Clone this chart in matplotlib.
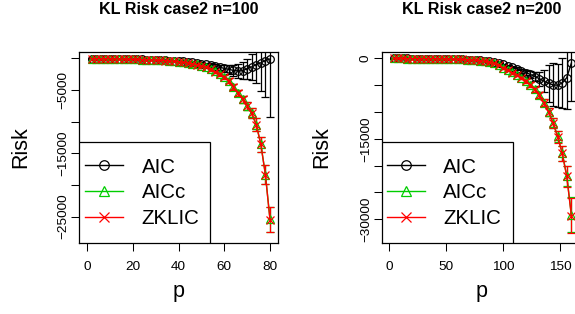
import matplotlib
matplotlib.use("Agg")
import matplotlib.pyplot as plt
from matplotlib.patches import Rectangle

plt.rcParams['font.family'] = ['Liberation Sans', 'DejaVu Sans']

# ---------------- data: n = 100 ----------------
p100 = list(range(2, 81, 2))
aic100 = [-30, -40, -50, -60, -70, -80, -95, -110, -125, -140,
          -160, -180, -200, -225, -250, -280, -310, -350, -390, -440,
          -500, -570, -650, -740, -850, -970, -1100, -1250, -1420, -1580,
          -1750, -1900, -2000, -1950, -1650, -1350, -1000, -700, -350, -100]
aic100_se = [20, 20, 25, 25, 30, 30, 35, 35, 40, 40,
             45, 50, 55, 60, 65, 70, 80, 90, 100, 110,
             120, 135, 150, 170, 200, 240, 290, 350, 420, 500,
             650, 850, 1100, 1350, 1600, 2000, 2900, 4400, 5700, 9200]
aicc100 = [-30, -40, -50, -60, -70, -85, -100, -115, -130, -150,
           -170, -190, -210, -235, -265, -300, -340, -390, -450, -520,
           -600, -700, -820, -970, -1150, -1380, -1700, -2060, -2480, -2930,
           -3530, -4480, -5480, -6430, -7480, -8680, -10450, -13550, -18350, -25400]
aicc100_se = [20, 20, 25, 25, 30, 30, 35, 35, 40, 45,
              50, 55, 60, 65, 70, 75, 80, 90, 95, 100,
              110, 120, 140, 160, 180, 200, 230, 260, 290, 330,
              380, 430, 500, 560, 650, 800, 1000, 1200, 1500, 1950]
zk100 = [-40, -50, -60, -70, -80, -95, -110, -125, -140, -160,
         -180, -200, -225, -255, -285, -320, -360, -410, -470, -540,
         -620, -720, -840, -990, -1170, -1400, -1720, -2080, -2500, -2950,
         -3550, -4500, -5500, -6450, -7500, -8700, -10500, -13600, -18400, -25500]
zk100_se = [20, 20, 25, 25, 30, 30, 35, 35, 40, 45,
            50, 55, 60, 65, 70, 75, 80, 90, 95, 100,
            110, 120, 140, 160, 180, 200, 230, 260, 290, 330,
            380, 430, 500, 560, 650, 800, 1000, 1200, 1500, 1950]

# ---------------- data: n = 200 ----------------
p200 = list(range(4, 161, 4))
aic200 = [-15, -20, -25, -30, -35, -40, -45, -55, -65, -75,
          -85, -100, -115, -135, -160, -190, -225, -265, -320, -390,
          -470, -560, -650, -850, -1100, -1350, -1650, -1950, -2300, -2650,
          -3000, -3400, -3800, -4250, -4650, -4950, -5000, -4600, -3600, -900]
aic200_se = [15, 15, 20, 20, 20, 25, 25, 25, 30, 30,
             35, 35, 40, 40, 45, 50, 55, 60, 65, 70,
             75, 80, 90, 100, 110, 150, 200, 280, 380, 500,
             650, 900, 1300, 2000, 3500, 4000, 4000, 4600, 5800, 7000]
aicc200 = [-20, -25, -30, -35, -40, -45, -50, -60, -70, -80,
           -95, -110, -130, -150, -180, -210, -250, -300, -370, -450,
           -560, -700, -950, -1300, -1780, -2180, -2630, -3080, -3580, -4180,
           -4880, -5780, -6880, -8280, -9950, -12050, -14550, -17650, -21900, -29100]
aicc200_se = [15, 15, 20, 20, 20, 25, 25, 25, 30, 30,
              35, 35, 40, 40, 45, 50, 55, 60, 60, 65,
              70, 80, 100, 120, 150, 180, 210, 250, 290, 340,
              400, 460, 540, 640, 760, 900, 1100, 1400, 1900, 3300]
zk200 = [-20, -25, -30, -35, -40, -45, -50, -60, -70, -80,
         -95, -110, -130, -150, -180, -210, -250, -300, -370, -450,
         -560, -700, -950, -1300, -1800, -2200, -2650, -3100, -3600, -4200,
         -4900, -5800, -6900, -8300, -10000, -12100, -14600, -17700, -22000, -29300]
zk200_se = [15, 15, 20, 20, 20, 25, 25, 25, 30, 30,
            35, 35, 40, 40, 45, 50, 55, 60, 60, 65,
            70, 80, 100, 120, 150, 180, 210, 250, 290, 340,
            400, 460, 540, 640, 760, 900, 1100, 1400, 1900, 3300]

series_names = ["AIC", "AICc", "ZKLIC"]
titles = ["KL Risk case2 n=100", "KL Risk case2 n=200"]

xticks100 = [0, 20, 40, 60, 80]
xticks200 = [0, 50, 100, 150]
yticks100 = [0, -5000, -10000, -15000, -20000, -25000]
ylabels100 = ["", "\u22125000", "", "\u221215000", "", "\u221225000"]
yticks200 = [0, -5000, -10000, -15000, -20000, -25000, -30000]
ylabels200 = ["0", "", "", "\u221215000", "", "", "\u221230000"]

colors = ["black", "#00CD00", "#FF0000"]
markers = ["o", "^", "x"]

W, H = 575, 314
fig = plt.figure(figsize=(W / 100, H / 100), dpi=100)
axL = fig.add_axes([79 / W, 71 / H, 199 / W, 191 / H])
axR = fig.add_axes([382 / W, 71 / H, 199 / W, 191 / H])


def draw(ax, p, ys, ses, xlim, ylim, xt, yt, yl, title, leg_x):
    handles = []
    for y, se, c, m, name in zip(ys, ses, colors, markers, series_names):
        ax.errorbar(p, y, yerr=se, fmt='none', ecolor=c, elinewidth=0.9,
                    capsize=3.2, capthick=0.9, zorder=2)
        h, = ax.plot(p, y, color=c, lw=1.0, marker=m, ms=5.5,
                     mfc='none', mec=c, mew=0.9, label=name, zorder=3)
        handles.append(h)
    ax.set_xlim(*xlim)
    ax.set_ylim(*ylim)
    ax.set_xticks(xt)
    ax.set_xticklabels([str(v) for v in xt])
    ax.set_yticks(yt)
    ax.set_yticklabels(yl, rotation=90, va='center')
    ax.tick_params(axis='both', direction='out', length=5.8, width=0.75,
                   labelsize=9.7, colors='black')
    ax.tick_params(axis='x', pad=6.8)
    ax.tick_params(axis='y', pad=1.5)
    for s in ax.spines.values():
        s.set_linewidth(0.9)
        s.set_color('black')
    ax.set_title(title, fontsize=11.6, fontweight='bold', y=1.178, va='center')
    ax.set_xlabel("p", fontsize=15.5)
    ax.xaxis.set_label_coords(0.5, -0.20)
    ax.set_ylabel("Risk", fontsize=15.5)
    rect = Rectangle((0, 0), 0.658, 0.529, transform=ax.transAxes,
                     facecolor='white', edgecolor='black', lw=0.9, zorder=4.5)
    ax.add_patch(rect)
    leg = ax.legend(handles=handles, loc='center left',
                    bbox_to_anchor=(leg_x, (243 - 192.7) / 191),
                    frameon=False, fontsize=14.8, borderpad=0,
                    borderaxespad=0, handlelength=1.85, handletextpad=0.9,
                    labelspacing=0.32, markerscale=1.25)
    leg.set_zorder(5)
    return ax


draw(axL, p100, [aic100, aicc100, zk100], [aic100_se, aicc100_se, zk100_se],
     (-3.5, 83.5), (-29160, 1000), xticks100, yticks100, ylabels100,
     titles[0], 0.03)
axL.yaxis.set_label_coords(-0.238, 0.5)

draw(axR, p200, [aic200, aicc200, zk200], [aic200_se, aicc200_se, zk200_se],
     (-6.4, 168.5), (-34410, 1180), xticks200, yticks200, ylabels200,
     titles[1], 0.024)
axR.yaxis.set_label_coords(-0.248, 0.5)

fig.savefig("out.png", dpi=100)
